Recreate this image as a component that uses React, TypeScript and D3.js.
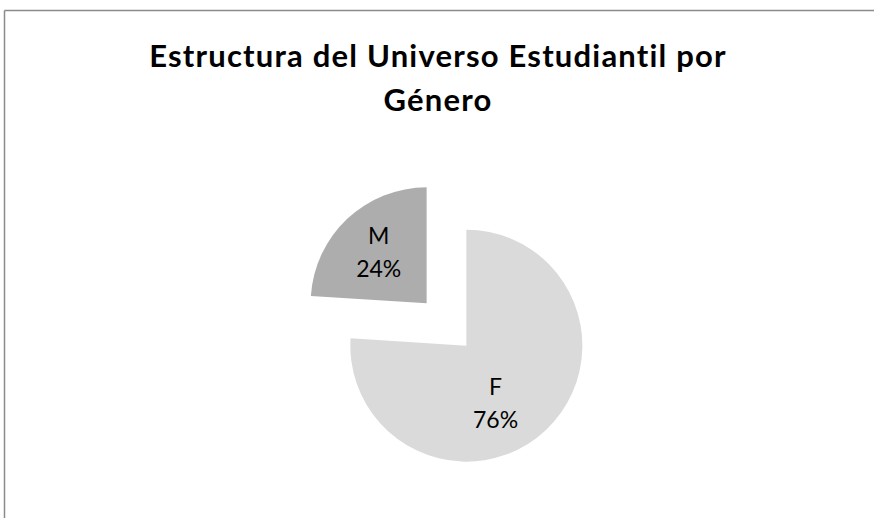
import React from "react";
import * as d3 from "d3";

const categories = ["F", "M"];
const values = [76, 24];
const colors = ["#dadada", "#adadad"];
const titleLines = ["Estructura del Universo Estudiantil por", "Género"];

const W = 874;
const H = 518;

export default function App() {
  const cx = 446.5;
  const cy = 324.5;
  const r = 116;
  const explode = 29;
  const pie = d3.pie<number>().sort(null).startAngle(0).endAngle(2 * Math.PI)(values);
  const arc = d3.arc<d3.PieArcDatum<number>>().innerRadius(0).outerRadius(r);
  const total = d3.sum(values);
  const labelAdj = [0.28, 0.0];
  const labelDist = [64, 70];

  return (
    <svg width={W} height={H} style={{ position: "absolute", left: 0, top: 0, background: "#fff" }}>
      <rect x={0} y={0} width={W} height={H} fill="#fff" />
      <line x1={4.5} y1={10.5} x2={W} y2={10.5} stroke="#8a8a8a" strokeWidth={1.5} />
      <line x1={4.5} y1={10.5} x2={4.5} y2={H} stroke="#8a8a8a" strokeWidth={1.5} />
      <g fontFamily="Lato, 'Open Sans', sans-serif" fontWeight="bold" fontSize={31} letterSpacing={1.2} textAnchor="middle" fill="#000">
        {titleLines.map((t, i) => (
          <text key={i} x={438} y={67 + i * 44}>{t}</text>
        ))}
      </g>
      {pie.map((p, i) => {
        const mid = (p.startAngle + p.endAngle) / 2;
        const ox = cx + Math.sin(mid) * explode;
        const oy = cy - Math.cos(mid) * explode;
        const la = mid + labelAdj[i];
        const lx = ox + Math.sin(la) * labelDist[i];
        const ly = oy - Math.cos(la) * labelDist[i];
        const pct = Math.round((values[i] / total) * 100) + "%";
        return (
          <g key={i}>
            <path d={arc(p) || ""} transform={`translate(${ox},${oy})`} fill={colors[i]} />
            <text x={lx} y={ly} textAnchor="middle" fontFamily="Lato, 'Open Sans', sans-serif" fontSize={23} fill="#000">
              <tspan x={lx} dy={-8}>{categories[i]}</tspan>
              <tspan x={lx} dy={33}>{pct}</tspan>
            </text>
          </g>
        );
      })}
    </svg>
  );
}
